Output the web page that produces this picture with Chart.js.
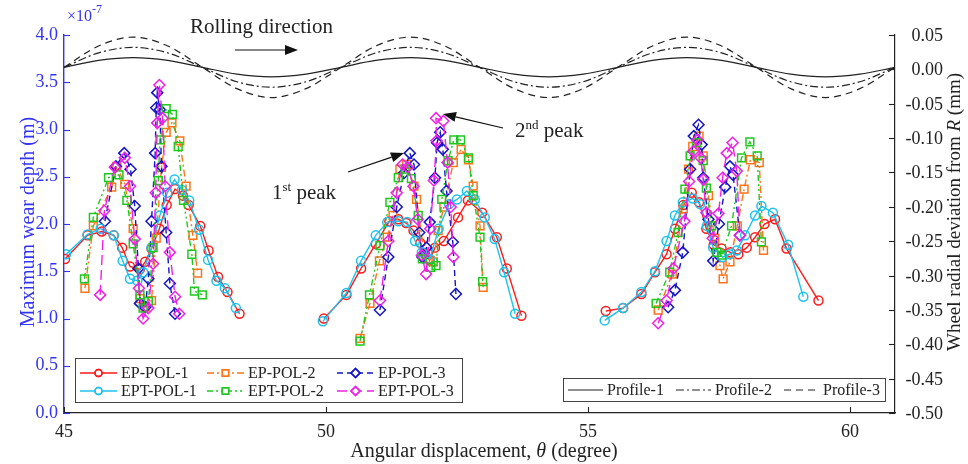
<!DOCTYPE html>
<html>
<head>
<meta charset="utf-8">
<script src="https://cdn.jsdelivr.net/npm/chart.js@4.4.1/dist/chart.umd.min.js"></script>
<style>
  html, body { margin: 0; padding: 0; background: #fff; }
</style>
</head>
<body>
<canvas id="wear-chart" width="968" height="464"></canvas>
<script>
// wear depth (x10^-7 m) against angle (degree); null splits the three wear patches
const epPol1 = [[45.02,1.63],[45.45,1.88],[45.72,1.92],[45.95,1.88],[46.11,1.75],[46.26,1.55],[46.45,1.52],[46.55,1.60],[46.67,1.74],[46.82,1.95],[46.96,2.20],[47.12,2.37],[47.27,2.30],[47.38,2.20],[47.60,1.98],[47.76,1.72],[47.94,1.44],[48.12,1.28],[48.35,1.05], null,
  [49.96,1.00],[50.39,1.25],[50.67,1.53],[50.95,1.79],[51.21,2.03],[51.38,2.05],[51.53,2.01],[51.67,1.93],[51.80,1.80],[51.89,1.68],[51.98,1.62],[52.08,1.75],[52.25,1.82],[52.52,2.07],[52.71,2.25],[52.98,2.12],[53.26,1.86],[53.45,1.53],[53.73,1.03], null,
  [55.34,1.08],[55.67,1.11],[56.02,1.26],[56.28,1.49],[56.50,1.68],[56.66,1.95],[56.82,2.20],[56.98,2.33],[57.12,2.23],[57.26,1.95],[57.40,1.78],[57.55,1.74],[57.72,1.70],[57.87,1.68],[58.03,1.75],[58.19,1.86],[58.37,2.00],[58.57,2.05],[58.79,1.74],[59.40,1.19]];

const epPol2 = [[45.40,1.32],[45.56,1.98],[45.91,2.39],[46.01,2.61],[46.16,2.42],[46.32,1.95],[46.45,1.21],[46.55,1.12],[46.67,1.19],[46.76,1.85],[46.86,2.60],[46.95,2.97],[47.06,3.07],[47.21,2.88],[47.33,2.40],[47.46,1.88],[47.55,1.48], null,
  [50.65,0.79],[50.84,1.16],[51.02,1.61],[51.17,1.86],[51.28,2.09],[51.41,2.58],[51.54,2.63],[51.68,2.40],[51.73,2.26],[51.87,1.70],[51.95,1.63],[52.05,1.60],[52.14,1.93],[52.25,2.18],[52.43,2.65],[52.58,2.79],[52.72,2.68],[52.81,2.40],[52.94,1.98],[53.00,1.33], null,
  [56.34,1.09],[56.61,1.47],[56.82,2.16],[56.92,2.58],[57.00,2.82],[57.12,2.93],[57.20,2.72],[57.30,2.30],[57.42,1.85],[57.52,1.56],[57.58,1.42],[57.71,1.60],[57.85,1.98],[57.98,2.37],[58.10,2.68],[58.27,2.65],[58.35,1.72]];

const epPol3 = [[45.78,2.03],[45.99,2.61],[46.15,2.75],[46.27,2.58],[46.35,2.19],[46.42,1.53],[46.45,1.16],[46.55,1.12],[46.61,1.42],[46.67,2.03],[46.74,2.75],[46.76,3.23],[46.78,3.39],[46.83,3.21],[46.86,2.61],[46.95,1.91],[47.02,1.37],[47.12,1.05], null,
  [51.03,1.09],[51.19,1.65],[51.35,2.18],[51.49,2.54],[51.60,2.75],[51.68,2.63],[51.78,1.91],[51.84,1.65],[51.92,1.75],[51.98,2.02],[52.08,2.49],[52.12,2.86],[52.18,2.97],[52.23,2.79],[52.30,2.35],[52.42,1.81],[52.48,1.26], null,
  [56.53,1.12],[56.66,1.30],[56.81,1.70],[56.95,2.58],[57.02,2.93],[57.11,3.05],[57.17,2.84],[57.20,2.49],[57.30,2.05],[57.39,1.61],[57.50,2.00],[57.62,2.39],[57.71,2.61],[57.77,2.52],[57.90,1.88]];

const eptPol1 = [[45.04,1.68],[45.45,1.89],[45.70,1.95],[45.95,1.88],[46.12,1.61],[46.26,1.42],[46.40,1.40],[46.51,1.49],[46.67,1.75],[46.83,2.09],[46.97,2.33],[47.11,2.47],[47.25,2.36],[47.39,2.25],[47.58,1.94],[47.75,1.62],[47.91,1.40],[48.07,1.32],[48.28,1.11], null,
  [49.94,0.97],[50.39,1.27],[50.67,1.61],[50.95,1.88],[51.17,2.02],[51.38,2.03],[51.55,2.02],[51.70,1.82],[51.83,1.70],[51.98,1.63],[52.15,1.95],[52.35,2.21],[52.50,2.26],[52.69,2.35],[52.84,2.26],[53.03,2.07],[53.22,1.84],[53.40,1.49],[53.61,1.05], null,
  [55.32,0.98],[55.67,1.11],[56.02,1.28],[56.28,1.50],[56.50,1.82],[56.66,2.09],[56.81,2.23],[57.00,2.27],[57.14,2.21],[57.27,1.98],[57.39,1.75],[57.57,1.65],[57.70,1.68],[57.84,1.72],[58.00,1.88],[58.19,2.09],[58.31,2.19],[58.53,2.12],[58.82,1.78],[59.11,1.23]];

const eptPol2 = [[45.39,1.42],[45.56,2.07],[45.85,2.49],[46.05,2.52],[46.20,2.25],[46.32,1.79],[46.45,1.25],[46.51,1.11],[46.61,1.18],[46.70,1.75],[46.80,2.46],[46.83,2.89],[46.95,3.22],[47.07,3.16],[47.18,2.82],[47.28,2.25],[47.44,1.68],[47.49,1.29],[47.64,1.25], null,
  [50.65,0.76],[50.83,1.25],[51.03,1.77],[51.22,2.23],[51.38,2.49],[51.51,2.58],[51.63,2.48],[51.76,2.09],[51.84,1.63],[52.00,1.54],[52.10,1.56],[52.21,2.26],[52.33,2.67],[52.44,2.89],[52.57,2.89],[52.72,2.70],[52.81,2.30],[52.94,1.86],[52.99,1.39], null,
  [56.30,1.16],[56.56,1.49],[56.72,1.91],[56.85,2.37],[56.95,2.72],[57.07,2.86],[57.20,2.67],[57.26,2.38],[57.36,1.98],[57.46,1.70],[57.55,1.67],[57.74,1.98],[57.93,2.70],[58.09,2.87],[58.23,2.72],[58.31,1.81]];

const eptPol3 = [[45.69,1.25],[45.77,2.14],[45.97,2.60],[46.16,2.70],[46.26,2.40],[46.35,1.84],[46.43,1.32],[46.51,1.00],[46.61,1.11],[46.70,1.58],[46.75,2.33],[46.78,3.07],[46.82,3.47],[46.88,3.12],[46.93,2.40],[47.02,1.70],[47.12,1.23],[47.20,1.05], null,
  [51.03,1.19],[51.19,1.82],[51.35,2.33],[51.46,2.63],[51.56,2.60],[51.67,2.40],[51.75,2.05],[51.83,1.67],[51.91,1.47],[51.99,1.95],[52.06,2.46],[52.11,2.88],[52.10,3.12],[52.24,3.09],[52.32,2.65],[52.38,2.18],[52.43,1.65], null,
  [56.34,0.95],[56.50,1.19],[56.63,1.53],[56.84,2.03],[56.93,2.45],[57.01,2.77],[57.09,2.89],[57.15,2.70],[57.20,2.47],[57.26,2.12],[57.38,1.85],[57.49,2.11],[57.57,2.49],[57.65,2.75],[57.76,2.86],[57.84,2.56],[57.90,1.88]];

// wheel radial deviation (mm), read at eighth-wave steps
const profileAngles = [45.00,45.66,46.32,46.98,47.64,48.30,48.96,49.62,50.29,50.95,51.61,52.27,52.93,53.59,54.25,54.91,55.57,56.23,56.89,57.55,58.21,58.87,59.53,60.19,60.86];
const profile1 = [0.003,0.013,0.017,0.013,0.003,-0.007,-0.011,-0.007,0.003,0.013,0.017,0.013,0.003,-0.007,-0.011,-0.007,0.003,0.013,0.017,0.013,0.003,-0.007,-0.011,-0.007,0.003];
const profile2 = [0.003,0.024,0.032,0.024,0.003,-0.018,-0.026,-0.018,0.003,0.024,0.032,0.024,0.003,-0.018,-0.026,-0.018,0.003,0.024,0.032,0.024,0.003,-0.018,-0.026,-0.018,0.003];
const profile3 = [0.003,0.034,0.047,0.034,0.003,-0.028,-0.041,-0.028,0.003,0.034,0.047,0.034,0.003,-0.028,-0.041,-0.028,0.003,0.034,0.047,0.034,0.003,-0.028,-0.041,-0.028,0.003];

const xTicks = [45, 50, 55, 60];
const leftTicks = [0, 0.5, 1, 1.5, 2, 2.5, 3, 3.5, 4];
const rightTicks = [0.05, 0, -0.05, -0.1, -0.15, -0.2, -0.25, -0.3, -0.35, -0.4, -0.45, -0.5];

const BLUE = '#3434f4';
const INK = '#222';
const SERIF = "'Liberation Serif', 'Times New Roman', serif";

function toPoints(list) {
    const out = [];
    list.forEach((p, i) => {
        if (p === null) out.push({ x: list[i - 1][0], y: null });
        else out.push({ x: p[0], y: p[1] });
    });
    return out;
}

function wearSet(label, list, color, dash, style, radius) {
    return {
        label: label,
        data: toPoints(list),
        yAxisID: 'y',
        borderColor: color,
        borderWidth: 1.4,
        borderDash: dash,
        pointStyle: style,
        pointRadius: radius,
        pointBorderColor: color,
        pointBackgroundColor: 'rgba(255,255,255,0)',
        pointBorderWidth: 1.5,
        tension: 0,
        spanGaps: false,
        fill: false
    };
}

function profileSet(label, values, dash) {
    return {
        label: label,
        data: profileAngles.map((a, i) => ({ x: a, y: values[i] })),
        yAxisID: 'y2',
        borderColor: INK,
        borderWidth: 1.2,
        borderDash: dash,
        pointRadius: 0,
        cubicInterpolationMode: 'monotone',
        fill: false
    };
}

const wearSets = [
    wearSet('EP-POL-1', epPol1, '#ff1a1a', [], 'circle', 4.5),
    wearSet('EP-POL-2', epPol2, '#ff7418', [7, 3, 2, 3], 'rect', 5.5),
    wearSet('EP-POL-3', epPol3, '#1515c8', [6, 4], 'rectRot', 5.5),
    wearSet('EPT-POL-1', eptPol1, '#1cc3ee', [], 'circle', 4.5),
    wearSet('EPT-POL-2', eptPol2, '#1ec81e', [6, 3, 2, 3, 2, 3], 'rect', 5.5),
    wearSet('EPT-POL-3', eptPol3, '#f020e6', [10, 5], 'rectRot', 5.5)
];
const profileSets = [
    profileSet('Profile-1', profile1, []),
    profileSet('Profile-2', profile2, [8, 3, 2, 3]),
    profileSet('Profile-3', profile3, [7, 5])
];
// later wear series sit on top, as in the original
wearSets.forEach((d, i) => { d.order = 10 - i; });
profileSets.forEach(d => { d.order = 20; });

function arrow(ctx, x1, y1, x2, y2) {
    const ang = Math.atan2(y2 - y1, x2 - x1);
    const len = 13, half = 5;
    ctx.beginPath();
    ctx.moveTo(x1, y1);
    ctx.lineTo(x2 - Math.cos(ang) * len, y2 - Math.sin(ang) * len);
    ctx.stroke();
    ctx.beginPath();
    ctx.moveTo(x2, y2);
    ctx.lineTo(x2 - Math.cos(ang) * len - Math.sin(ang) * half, y2 - Math.sin(ang) * len + Math.cos(ang) * half);
    ctx.lineTo(x2 - Math.cos(ang) * len + Math.sin(ang) * half, y2 - Math.sin(ang) * len - Math.cos(ang) * half);
    ctx.closePath();
    ctx.fill();
}

// text with a raised suffix, e.g. 1st, 2nd
function supText(ctx, x, y, base, sup, rest, size) {
    ctx.font = size + 'px ' + SERIF;
    ctx.fillText(base, x, y);
    let w = ctx.measureText(base).width;
    ctx.font = Math.round(size * 0.62) + 'px ' + SERIF;
    ctx.fillText(sup, x + w, y - size * 0.38);
    w += ctx.measureText(sup).width;
    ctx.font = size + 'px ' + SERIF;
    ctx.fillText(rest, x + w, y);
}

function legendSample(ctx, ds, x1, x2, y) {
    ctx.save();
    ctx.strokeStyle = ds.borderColor;
    ctx.lineWidth = ds.borderWidth;
    ctx.setLineDash(ds.borderDash);
    ctx.beginPath();
    ctx.moveTo(x1, y);
    ctx.lineTo(x2, y);
    ctx.stroke();
    ctx.setLineDash([]);
    if (ds.pointRadius) {
        ctx.lineWidth = ds.pointBorderWidth;
        ctx.fillStyle = '#fff';
        Chart.helpers.drawPoint(ctx, { pointStyle: ds.pointStyle, radius: ds.pointRadius - 1, rotation: 0, borderWidth: ds.pointBorderWidth }, (x1 + x2) / 2, y);
        ctx.stroke();
    }
    ctx.restore();
}

const decorPlugin = {
    id: 'decor',
    afterDraw(chart) {
        const ctx = chart.ctx;
        const area = chart.chartArea;
        const xs = chart.scales.x, ys = chart.scales.y, ys2 = chart.scales.y2;
        ctx.save();

        // inward tick marks
        ctx.lineWidth = 1.1;
        ctx.strokeStyle = BLUE;
        leftTicks.forEach(v => {
            const y = Math.round(ys.getPixelForValue(v)) + 0.5;
            ctx.beginPath(); ctx.moveTo(area.left, y); ctx.lineTo(area.left + 6, y); ctx.stroke();
        });
        ctx.strokeStyle = INK;
        ctx.fillStyle = INK;
        ctx.font = '18px ' + SERIF;
        ctx.textAlign = 'right';
        ctx.textBaseline = 'middle';
        rightTicks.forEach(v => {
            const y = Math.round(ys2.getPixelForValue(v)) + 0.5;
            ctx.beginPath(); ctx.moveTo(area.right, y); ctx.lineTo(area.right - 6, y); ctx.stroke();
            ctx.fillText((Math.abs(v) < 1e-9 ? 0 : v).toFixed(2), 943, y + 1);
        });
        xTicks.forEach(v => {
            const x = Math.round(xs.getPixelForValue(v)) + 0.5;
            ctx.beginPath(); ctx.moveTo(x, area.bottom); ctx.lineTo(x, area.bottom - 6); ctx.stroke();
        });

        // exponent over the left axis
        ctx.fillStyle = BLUE;
        ctx.textBaseline = 'alphabetic';
        ctx.textAlign = 'left';
        ctx.font = '16px ' + SERIF;
        ctx.fillText('\u00d710', 67, 21);
        const w10 = ctx.measureText('\u00d710').width;
        ctx.font = '12px ' + SERIF;
        ctx.fillText('-7', 67 + w10, 13);

        // axis titles
        ctx.save();
        ctx.translate(29, 222);
        ctx.rotate(-Math.PI / 2);
        ctx.textAlign = 'center';
        ctx.textBaseline = 'middle';
        ctx.font = '20px ' + SERIF;
        ctx.fillText('Maximum wear depth (m)', 0, 0);
        ctx.restore();

        ctx.fillStyle = INK;
        ctx.save();
        ctx.translate(955, 212);
        ctx.rotate(-Math.PI / 2);
        ctx.textBaseline = 'middle';
        const partA = 'Wheel radial deviation from ', partB = 'R', partC = ' (mm)';
        ctx.font = '19px ' + SERIF;
        const wa = ctx.measureText(partA).width, wc = ctx.measureText(partC).width;
        ctx.font = 'italic 19px ' + SERIF;
        const wb = ctx.measureText(partB).width;
        let sx = -(wa + wb + wc) / 2;
        ctx.font = '19px ' + SERIF;
        ctx.fillText(partA, sx, 0);
        ctx.font = 'italic 19px ' + SERIF;
        ctx.fillText(partB, sx + wa, 0);
        ctx.font = '19px ' + SERIF;
        ctx.fillText(partC, sx + wa + wb, 0);
        ctx.restore();

        ctx.textBaseline = 'middle';
        const bA = 'Angular displacement, ', bB = '\u03b8', bC = ' (degree)';
        ctx.font = '20px ' + SERIF;
        const ba = ctx.measureText(bA).width, bc = ctx.measureText(bC).width;
        ctx.font = 'italic 20px ' + SERIF;
        const bb = ctx.measureText(bB).width;
        sx = 484 - (ba + bb + bc) / 2;
        ctx.font = '20px ' + SERIF;
        ctx.fillText(bA, sx, 452);
        ctx.font = 'italic 20px ' + SERIF;
        ctx.fillText(bB, sx + ba, 452);
        ctx.font = '20px ' + SERIF;
        ctx.fillText(bC, sx + ba + bb, 452);

        // annotations
        ctx.textBaseline = 'alphabetic';
        ctx.font = '21px ' + SERIF;
        ctx.fillText('Rolling direction', 190, 33);
        ctx.fillStyle = '#111';
        ctx.strokeStyle = '#111';
        ctx.lineWidth = 1.2;
        arrow(ctx, 235, 50, 298, 50);
        arrow(ctx, 348, 172, 404, 153);
        arrow(ctx, 503, 128, 443, 114);
        ctx.fillStyle = INK;
        supText(ctx, 272, 199, '1', 'st', ' peak', 21);
        supText(ctx, 515, 137, '2', 'nd', ' peak', 21);

        // wear legend
        ctx.lineWidth = 1;
        ctx.fillStyle = '#fff';
        ctx.strokeStyle = '#444';
        ctx.fillRect(75, 358, 387, 44);
        ctx.strokeRect(75.5, 358.5, 387, 44);
        const colX = [80, 207, 337];
        const rowY = [373, 391];
        ctx.font = '16px ' + SERIF;
        ctx.textBaseline = 'middle';
        wearSets.forEach((ds, i) => {
            const cx = colX[i % 3], cy = rowY[Math.floor(i / 3)];
            legendSample(ctx, ds, cx, cx + 37, cy);
            ctx.fillStyle = INK;
            ctx.fillText(ds.label, cx + 41, cy + 1);
        });

        // profile legend
        ctx.fillStyle = '#fff';
        ctx.strokeStyle = '#444';
        ctx.fillRect(563, 378, 322, 23);
        ctx.strokeRect(563.5, 378.5, 322, 23);
        profileSets.forEach((ds, i) => {
            const cx = 568 + i * 108;
            legendSample(ctx, ds, cx, cx + 35, 390);
            ctx.fillStyle = INK;
            ctx.fillText(ds.label, cx + 39, 391);
        });
        ctx.restore();
    }
};

const tickFont = { family: SERIF, size: 18 };

new Chart(document.getElementById('wear-chart').getContext('2d'), {
    type: 'line',
    data: { datasets: profileSets.concat(wearSets) },
    options: {
        responsive: false,
        animation: false,
        events: [],
        layout: { padding: { top: 35, left: 0, right: 0, bottom: 0 } },
        plugins: { legend: { display: false }, tooltip: { enabled: false } },
        scales: {
            x: {
                type: 'linear', min: 45, max: 60.86,
                grid: { display: false, drawTicks: false },
                border: { color: INK, width: 1.2 },
                ticks: { font: tickFont, color: INK, padding: 8, maxRotation: 0, autoSkip: false },
                afterBuildTicks(s) { s.ticks = xTicks.map(v => ({ value: v })); },
                afterFit(s) { s.height = 51; }
            },
            y: {
                position: 'left', min: 0, max: 4,
                grid: { display: false, drawTicks: false },
                border: { color: BLUE, width: 1.4 },
                ticks: { font: tickFont, color: BLUE, padding: 6, callback: v => v.toFixed(1) },
                afterBuildTicks(s) { s.ticks = leftTicks.map(v => ({ value: v })); },
                afterFit(s) { s.width = 64; }
            },
            y2: {
                position: 'right', min: -0.5, max: 0.05,
                grid: { display: false, drawTicks: false },
                border: { color: INK, width: 1.2 },
                ticks: { display: false },
                afterBuildTicks(s) { s.ticks = rightTicks.map(v => ({ value: v })); },
                afterFit(s) { s.width = 73; }
            }
        }
    },
    plugins: [decorPlugin]
});
</script>
</body>
</html>
